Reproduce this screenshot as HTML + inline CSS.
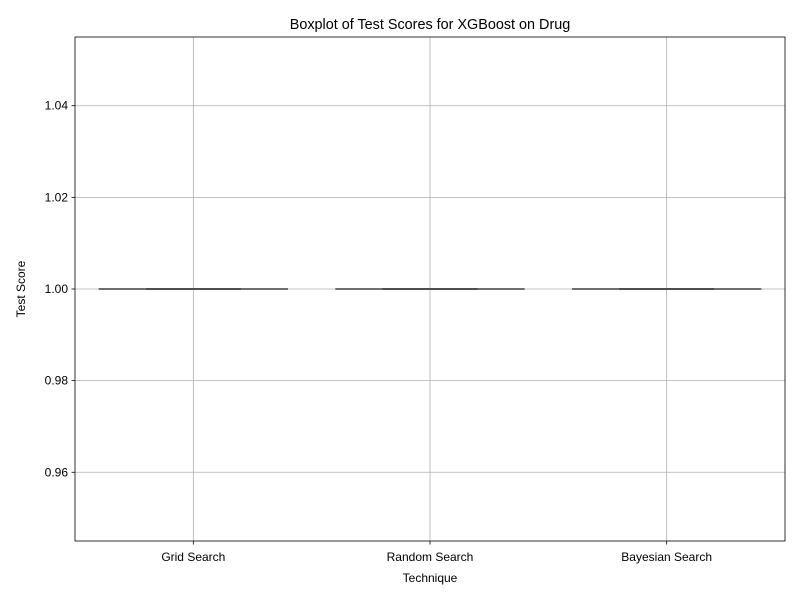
<!DOCTYPE html>
<html><head><meta charset="utf-8"><style>body{margin:0;background:#fff}svg{display:block;font-family:"Liberation Sans",sans-serif}</style></head>
<body>
<svg id="c" width="800" height="600"></svg>
<script>
const categories=["Grid Search","Random Search","Bayesian Search"];
const q1=[1,1,1],median=[1,1,1],q3=[1,1,1],whiskLo=[1,1,1],whiskHi=[1,1,1];
const yTicks=[0.96,0.98,1.00,1.02,1.04];
const yTickLabels=["0.96","0.98","1.00","1.02","1.04"];
const L=75,R=785,T=37,B=541,ymin=0.945,ymax=1.055;
const svg=document.getElementById('c');const NS="http://www.w3.org/2000/svg";
function y(v){return B-(v-ymin)/(ymax-ymin)*(B-T);}
const step=(R-L)/categories.length;function x(i){return L+step*(i+0.5);}
function el(t,a,p){const e=document.createElementNS(NS,t);for(const k in a)e.setAttribute(k,a[k]);(p||svg).appendChild(e);return e;}
yTicks.forEach((v,i)=>{const g=el('line',{x1:L,x2:R,y1:y(v),y2:y(v),stroke:'#b0b0b0','stroke-width':0.8});

el('line',{x1:L-3.5,x2:L,y1:y(v),y2:y(v),stroke:'#000','stroke-width':0.8});
const t=el('text',{x:L-7,y:y(v)+4,'text-anchor':'end','font-size':12});t.textContent=yTickLabels[i];
});
categories.forEach((c,i)=>{const g=el('line',{x1:x(i),x2:x(i),y1:T,y2:B,stroke:'#b0b0b0','stroke-width':0.8});

el('line',{x1:x(i),x2:x(i),y1:B,y2:B+3.5,stroke:'#000','stroke-width':0.8});
const t=el('text',{x:x(i),y:B+20,'text-anchor':'middle','font-size':12});t.textContent=c;
});
categories.forEach((c,i)=>{const g=el('g',{});
const bw=step*0.4;
el('rect',{x:x(i)-bw,y:y(q3[i]),width:2*bw,height:Math.max(0,y(q1[i])-y(q3[i])),fill:'#3a75af',stroke:'#707070','stroke-width':2},g);
el('line',{x1:x(i)-bw,x2:x(i)+bw,y1:y(median[i]),y2:y(median[i]),stroke:'#707070','stroke-width':2},g);
el('line',{x1:x(i),x2:x(i),y1:y(whiskHi[i]),y2:y(q3[i]),stroke:'#707070','stroke-width':2},g);
el('line',{x1:x(i),x2:x(i),y1:y(q1[i]),y2:y(whiskLo[i]),stroke:'#707070','stroke-width':2},g);
el('line',{x1:x(i)-bw/2,x2:x(i)+bw/2,y1:y(whiskHi[i]),y2:y(whiskHi[i]),stroke:'#4e4e4e','stroke-width':2},g);
el('line',{x1:x(i)-bw/2,x2:x(i)+bw/2,y1:y(whiskLo[i]),y2:y(whiskLo[i]),stroke:'#4e4e4e','stroke-width':2},g);});
const fr=el('rect',{x:L,y:T,width:R-L,height:B-T,fill:'none',stroke:'#000','stroke-width':0.8});

let t=el('text',{x:(L+R)/2,y:T-8,'text-anchor':'middle','font-size':14.4});t.textContent='Boxplot of Test Scores for XGBoost on Drug';

t=el('text',{x:(L+R)/2,y:582,'text-anchor':'middle','font-size':12});t.textContent='Technique';

t=el('text',{x:0,y:0,'text-anchor':'middle','font-size':12,transform:`translate(25,${(T+B)/2}) rotate(-90)`});t.textContent='Test Score';

</script>
</body></html>
